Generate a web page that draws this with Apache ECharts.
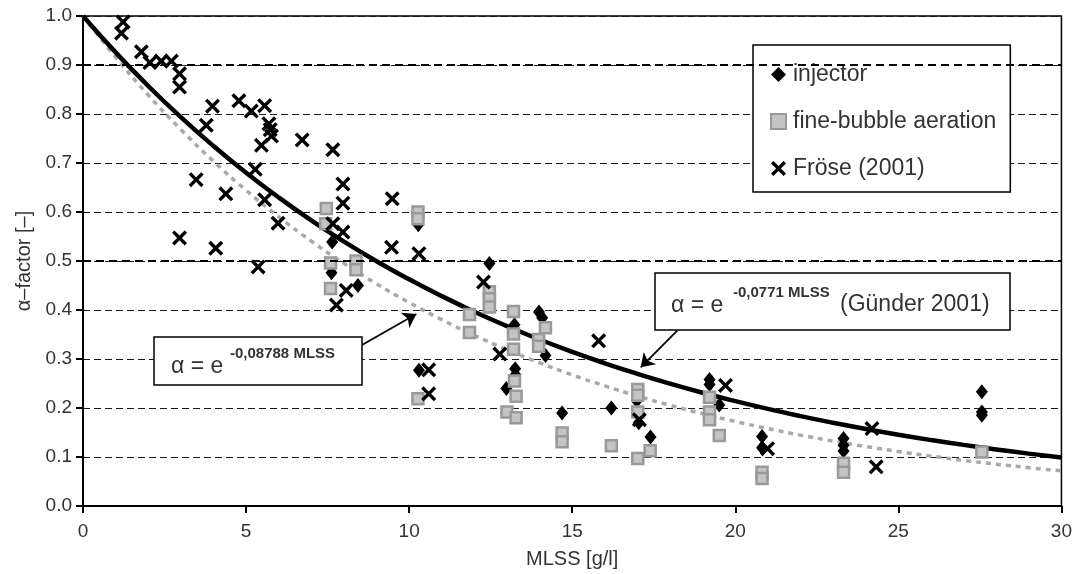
<!DOCTYPE html>
<html>
<head>
<meta charset="utf-8">
<script src="https://cdn.jsdelivr.net/npm/echarts@6/dist/echarts.min.js"></script>
<style>
  html, body { margin: 0; padding: 0; background: #fff; }
  #chart { width: 1075px; height: 574px; }
</style>
</head>
<body>
<div id="chart"></div>
<script>
// Measured alpha-factors against MLSS concentration [g/l]
const injector = [
  [7.64, 0.539], [7.62, 0.476], [8.43, 0.450], [10.28, 0.574], [10.30, 0.277],
  [12.46, 0.495], [13.23, 0.370], [13.25, 0.280], [13.26, 0.268], [12.98, 0.240],
  [13.98, 0.396], [14.08, 0.384], [14.18, 0.307], [14.69, 0.190], [16.20, 0.200],
  [16.98, 0.215], [17.04, 0.170], [17.40, 0.141], [19.21, 0.258], [19.21, 0.248],
  [19.51, 0.206], [20.82, 0.142], [20.82, 0.119], [23.32, 0.138], [23.32, 0.124],
  [23.32, 0.112], [27.56, 0.233], [27.56, 0.192], [27.56, 0.185]
];
const fineBubble = [
  [7.46, 0.607], [7.44, 0.576], [7.59, 0.496], [7.59, 0.444], [8.37, 0.500],
  [8.37, 0.482], [10.27, 0.600], [10.27, 0.586], [10.27, 0.219], [11.85, 0.391],
  [11.85, 0.354], [12.46, 0.437], [12.46, 0.423], [12.46, 0.406], [13.20, 0.397],
  [13.20, 0.351], [13.20, 0.320], [13.23, 0.255], [13.28, 0.224], [13.00, 0.192],
  [13.28, 0.180], [14.18, 0.364], [13.97, 0.340], [13.97, 0.326], [14.69, 0.149],
  [14.69, 0.131], [16.20, 0.123], [17.01, 0.238], [17.01, 0.226], [17.01, 0.192],
  [17.01, 0.097], [17.39, 0.113], [19.21, 0.222], [19.21, 0.192], [19.21, 0.176],
  [19.51, 0.144], [20.82, 0.069], [20.82, 0.056], [23.32, 0.087], [23.32, 0.069],
  [27.56, 0.110]
];
const froese = [
  [1.23, 0.988], [1.18, 0.965], [1.79, 0.927], [2.05, 0.905], [2.40, 0.908],
  [2.71, 0.908], [2.96, 0.882], [2.96, 0.855], [3.97, 0.816], [3.78, 0.777],
  [4.78, 0.827], [5.16, 0.806], [5.57, 0.817], [5.70, 0.780], [5.74, 0.768],
  [5.78, 0.755], [5.47, 0.736], [6.72, 0.747], [7.66, 0.727], [5.28, 0.687],
  [3.47, 0.666], [4.38, 0.637], [5.57, 0.625], [7.97, 0.657], [7.97, 0.618],
  [5.98, 0.577], [2.96, 0.547], [4.07, 0.526], [5.37, 0.488], [7.66, 0.576],
  [7.97, 0.559], [8.07, 0.440], [7.77, 0.410], [9.48, 0.627], [9.46, 0.528],
  [10.30, 0.515], [10.60, 0.278], [10.60, 0.229], [12.28, 0.457], [12.78, 0.310],
  [15.81, 0.337], [17.06, 0.176], [19.70, 0.246], [20.99, 0.117], [24.19, 0.158],
  [24.32, 0.080]
];

// Fitted curves sampled at whole MLSS values 0..30
const curveMlss = [0,1,2,3,4,5,6,7,8,9,10,11,12,13,14,15,16,17,18,19,20,21,22,23,24,25,26,27,28,29,30];
const gunderFit = [1.0000,0.9258,0.8571,0.7935,0.7346,0.6801,0.6297,0.5829,0.5397,0.4996,0.4626,
  0.4283,0.3965,0.3671,0.3398,0.3146,0.2913,0.2697,0.2497,0.2311,0.2140,0.1981,0.1834,0.1698,
  0.1572,0.1455,0.1347,0.1247,0.1155,0.1069,0.0990];
const ownFit = [1.0000,0.9159,0.8388,0.7683,0.7036,0.6444,0.5902,0.5406,0.4951,0.4534,0.4153,
  0.3803,0.3483,0.3190,0.2922,0.2676,0.2451,0.2245,0.2056,0.1883,0.1725,0.1580,0.1447,0.1325,
  0.1214,0.1111,0.1018,0.0932,0.0854,0.0782,0.0716];

const FONT = "'Liberation Sans', Arial, sans-serif";
const TXT = '#333';
const crossPath = 'path://M0,1.6 L1.6,0 L5,3.4 L8.4,0 L10,1.6 L6.6,5 L10,8.4 L8.4,10 L5,6.6 L1.6,10 L0,8.4 L3.4,5 Z';

const chart = echarts.init(document.getElementById('chart'), null, { renderer: 'canvas' });

const option = {
  backgroundColor: '#fff',
  animation: false,
  grid: {
    left: 83, top: 16, right: 13, bottom: 68,
    show: true, borderColor: '#000', borderWidth: 1.5, backgroundColor: 'transparent'
  },
  xAxis: {
    type: 'value', min: 0, max: 30, interval: 5,
    name: 'MLSS [g/l]', nameLocation: 'middle', nameGap: 43,
    nameTextStyle: { fontFamily: FONT, fontSize: 20, color: TXT },
    axisLine: { lineStyle: { color: '#000', width: 2 } },
    axisTick: { show: true, length: 7, lineStyle: { color: '#000', width: 2 } },
    axisLabel: { fontFamily: FONT, fontSize: 19, color: TXT, margin: 16 },
    splitLine: { show: false }
  },
  yAxis: {
    type: 'value', min: 0, max: 1, interval: 0.1,
    name: 'α–factor [–]', nameLocation: 'middle', nameGap: 44, nameRotate: 90,
    nameTextStyle: { fontFamily: FONT, fontSize: 20, color: TXT },
    axisLine: { show: true, lineStyle: { color: '#000', width: 2 } },
    axisTick: { show: true, length: 7, lineStyle: { color: '#000', width: 2 } },
    axisLabel: { fontFamily: FONT, fontSize: 19, color: TXT, margin: 11,
      formatter: v => v.toFixed(1) },
    splitLine: { show: true, lineStyle: { color: '#1a1a1a', width: 1, type: [7, 4] } }
  },
  legend: {
    orient: 'vertical', left: 753, top: 45,
    padding: [18, 14, 12, 17], itemGap: 24,
    itemWidth: 15, itemHeight: 15,
    backgroundColor: '#fff', borderColor: '#000', borderWidth: 1.5,
    textStyle: { fontFamily: FONT, fontSize: 23, color: TXT, padding: [0, 0, 0, 2] },
    data: ['injector', 'fine-bubble aeration', 'Fröse (2001)']
  },
  series: [
    {
      // heavier reference lines at 0.5 and 0.9
      name: 'refLines', type: 'line', data: [], z: 1, silent: true,
      markLine: {
        silent: true, symbol: ['none', 'none'], label: { show: false },
        lineStyle: { color: '#000', width: 2.2, type: [8, 5] },
        data: [{ yAxis: 0.5 }, { yAxis: 0.9 }]
      }
    },
    {
      name: 'fit 0.08788', type: 'line', z: 2, silent: true,
      data: curveMlss.map((x, i) => [x, ownFit[i]]),
      smooth: true, showSymbol: false,
      lineStyle: { color: '#a9a9a9', width: 3.5, type: [5, 5] }
    },
    {
      name: 'Günder', type: 'line', z: 2, silent: true,
      data: curveMlss.map((x, i) => [x, gunderFit[i]]),
      smooth: true, showSymbol: false,
      lineStyle: { color: '#000', width: 4.5 }
    },
    {
      name: 'injector', type: 'scatter', z: 3, data: injector,
      symbol: 'diamond', symbolSize: [12, 15],
      itemStyle: { color: '#000', opacity: 1 }
    },
    {
      name: 'fine-bubble aeration', type: 'scatter', z: 3, data: fineBubble,
      symbol: 'rect', symbolSize: 11,
      itemStyle: { color: '#c4c4c4', borderColor: '#999', borderWidth: 2.5, opacity: 1 }
    },
    {
      name: 'Fröse (2001)', type: 'scatter', z: 3, data: froese,
      symbol: crossPath, symbolSize: 15, symbolKeepAspect: true,
      itemStyle: { color: '#000', opacity: 1 }
    },
    {
      // pointers from the equation boxes to their curves
      name: 'pointers', type: 'line', data: [], z: 6, silent: true,
      markLine: {
        silent: true, label: { show: false }, symbolSize: 13,
        lineStyle: { color: '#000', width: 1.8, type: 'solid' },
        data: [
          [{ coord: [8.54, 0.328], symbol: 'none' }, { coord: [10.22, 0.392], symbol: 'arrow' }],
          [{ coord: [18.22, 0.358], symbol: 'none' }, { coord: [17.10, 0.283], symbol: 'arrow' }]
        ]
      }
    }
  ],
  graphic: [
    { type: 'rect', z: 100, shape: { x: 154, y: 337, width: 208, height: 48 },
      style: { fill: '#fff', stroke: '#000', lineWidth: 1.5 } },
    { type: 'text', z: 101, x: 171, y: 367,
      style: { text: 'α = e', fontFamily: FONT, fontSize: 23, fill: TXT, verticalAlign: 'middle' } },
    { type: 'text', z: 101, x: 230, y: 354,
      style: { text: '-0,08788 MLSS', fontFamily: FONT, fontSize: 15, fontWeight: 'bold', fill: TXT, verticalAlign: 'middle' } },

    { type: 'rect', z: 100, shape: { x: 655, y: 273, width: 355, height: 57 },
      style: { fill: '#fff', stroke: '#000', lineWidth: 1.5 } },
    { type: 'text', z: 101, x: 671, y: 306,
      style: { text: 'α = e', fontFamily: FONT, fontSize: 23, fill: TXT, verticalAlign: 'middle' } },
    { type: 'text', z: 101, x: 733, y: 293,
      style: { text: '-0,0771 MLSS', fontFamily: FONT, fontSize: 15, fontWeight: 'bold', fill: TXT, verticalAlign: 'middle' } },
    { type: 'text', z: 101, x: 840, y: 305,
      style: { text: '(Günder 2001)', fontFamily: FONT, fontSize: 23, fill: TXT, verticalAlign: 'middle' } }
  ]
};

chart.setOption(option);
</script>
</body>
</html>
